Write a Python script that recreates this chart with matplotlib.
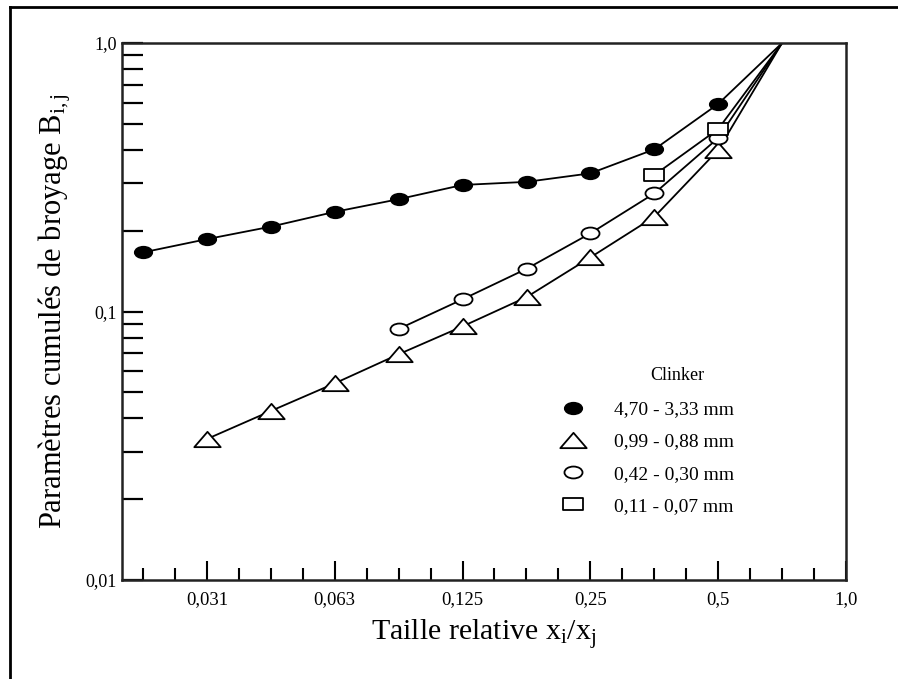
import numpy as np
import matplotlib
matplotlib.use('Agg')
import matplotlib.pyplot as plt
from matplotlib.path import Path
from matplotlib.lines import Line2D
from matplotlib.ticker import FixedLocator, NullFormatter

plt.rcParams['font.family'] = ['Liberation Serif', 'DejaVu Serif']
plt.rcParams['mathtext.fontset'] = 'custom'
plt.rcParams['mathtext.rm'] = 'Liberation Serif'
plt.rcParams['mathtext.it'] = 'Liberation Serif:italic'

# Data (relative size x_i/x_j, cumulative breakage B_ij)
x_470 = [0.0221, 0.03125, 0.0442, 0.0625, 0.0884, 0.125, 0.177, 0.25, 0.354, 0.5]
b_470 = [0.166, 0.186, 0.207, 0.235, 0.262, 0.296, 0.304, 0.327, 0.402, 0.593]

x_099 = [0.03125, 0.0442, 0.0625, 0.0884, 0.125, 0.177, 0.25, 0.354, 0.5]
b_099 = [0.0335, 0.0426, 0.054, 0.0693, 0.088, 0.1132, 0.159, 0.2254, 0.3995]

x_042 = [0.0884, 0.125, 0.177, 0.25, 0.354, 0.5]
b_042 = [0.0861, 0.111, 0.1443, 0.1954, 0.2756, 0.4427]

x_011 = [0.354, 0.5]
b_011 = [0.3225, 0.478]

# all curves meet here
x_end = 0.707
b_end = 1.0

labels = ['4,70 - 3,33 mm', '0,99 - 0,88 mm', '0,42 - 0,30 mm', '0,11 - 0,07 mm']

xticks = [1/32, 1/16, 1/8, 1/4, 1/2, 1.0]
xticklabels = ['0,031', '0,063', '0,125', '0,25', '0,5', '1,0']
yticks = [0.01, 0.1, 1.0]
yticklabels = ['0,01', '0,1', '1,0']


def shape(verts):
    verts = list(verts) + [verts[0]]
    codes = [Path.MOVETO] + [Path.LINETO] * (len(verts) - 2) + [Path.CLOSEPOLY]
    return Path(verts, codes)


circ = Path.unit_circle()
ellipse = Path(circ.vertices * np.array([1.0, 0.66]), circ.codes)
tri = shape([(-1, -0.58), (1, -0.58), (0, 0.58)])
rect = shape([(-1, -0.62), (1, -0.62), (1, 0.62), (-1, 0.62)])

fig = plt.figure(figsize=(8.98, 6.79), dpi=100)
ax = fig.add_axes([122/898, 1 - 580/679, 724/898, 537/679])

series = [
    (x_470, b_470, ellipse, 'black', 12.5, labels[0]),
    (x_099, b_099, tri, 'white', 19, labels[1]),
    (x_042, b_042, ellipse, 'white', 13, labels[2]),
    (x_011, b_011, rect, 'white', 14.5, labels[3]),
]

handles = []
for xs, bs, m, fc, ms, lab in series:
    ax.plot(xs + [x_end], bs + [b_end], color='black', lw=1.3, zorder=2)
    h, = ax.plot(xs, bs, ls='none', marker=m, markersize=ms, mfc=fc,
                 mec='black', mew=1.3, zorder=3, label=lab)
    handles.append(h)

ax.set_xscale('log', base=2)
ax.set_yscale('log')
ax.set_xlim(2 ** -5.664, 1.0)
ax.set_ylim(0.01, 1.0)

ax.xaxis.set_major_locator(FixedLocator(xticks))
ax.set_xticklabels(xticklabels)
xminor = [2 ** (-5.5), 2 ** (-5.25)] + [2 ** (k + q) for k in range(-5, 0) for q in (0.25, 0.5, 0.75)]
ax.xaxis.set_minor_locator(FixedLocator(xminor))
ax.xaxis.set_minor_formatter(NullFormatter())

ax.yaxis.set_major_locator(FixedLocator(yticks))
ax.set_yticklabels(yticklabels)
yminor = [s * 10.0 ** e for e in (-2, -1) for s in range(2, 10)]
ax.yaxis.set_minor_locator(FixedLocator(yminor))
ax.yaxis.set_minor_formatter(NullFormatter())

ax.tick_params(axis='x', which='major', direction='in', length=14, width=1.5,
               labelsize=13.5, pad=8, top=False)
ax.tick_params(axis='x', which='minor', direction='in', length=9, width=1.5, top=False)
ax.tick_params(axis='y', which='both', direction='in', length=15, width=1.6,
               labelsize=13, pad=4, right=False)

for sp in ax.spines.values():
    sp.set_linewidth(1.8)
    sp.set_color('#222222')

ax.set_xlabel('Taille relative x$_\\mathrm{i}$/x$_\\mathrm{j}$', fontsize=21.5)
ax.set_ylabel('Paramètres cumulés de broyage B$_\\mathrm{i,j}$', fontsize=22)
ax.xaxis.set_label_coords(0.5, -0.068)
ax.yaxis.set_label_coords(-0.068, 0.5)

leg = ax.legend(handles=handles, loc='upper left', frameon=False, fontsize=14,
                bbox_to_anchor=(548/898, 1 - 391/679), bbox_transform=fig.transFigure,
                borderpad=0, handlelength=1.6, handletextpad=1.3, labelspacing=0.75)
ax.text(677/898, 1 - 375/679, 'Clinker', transform=fig.transFigure,
        ha='center', va='center', fontsize=13)

# frame of the scanned figure (top and left edges only)
fig.add_artist(Line2D([10/898, 1], [1 - 7/679, 1 - 7/679], transform=fig.transFigure,
                      color='black', lw=2))
fig.add_artist(Line2D([10/898, 10/898], [0, 1 - 7/679], transform=fig.transFigure,
                      color='black', lw=2))

fig.savefig('out.png', dpi=100)
